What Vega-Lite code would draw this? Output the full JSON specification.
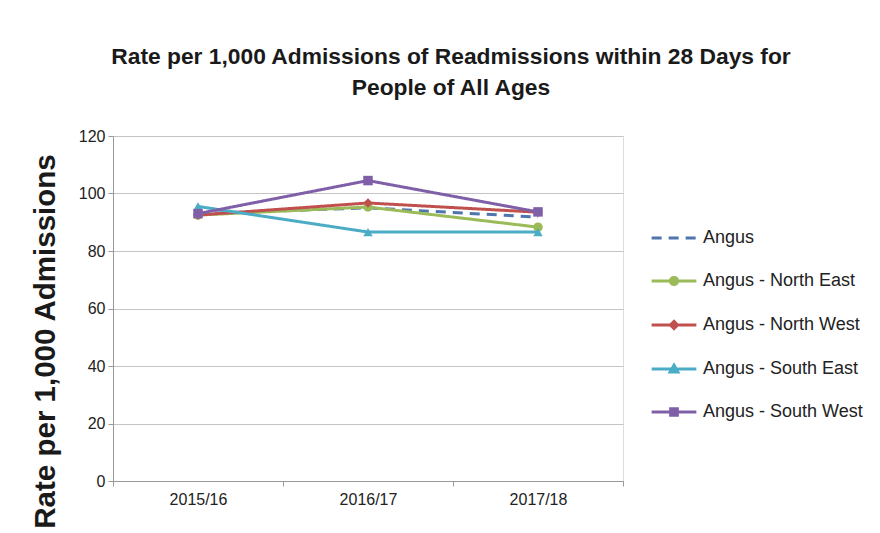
{
  "$schema": "https://vega.github.io/schema/vega-lite/v6.json",
  "width": 510,
  "height": 345,
  "autosize": "none",
  "padding": {"left": 113, "top": 136, "right": 257, "bottom": 52},
  "background": "white",
  "title": {
    "text": ["Rate per 1,000 Admissions of Readmissions within 28 Days for", "People of All Ages"],
    "font": "Liberation Sans",
    "fontSize": 22.8,
    "fontWeight": "bold",
    "color": "#1a1a1a",
    "anchor": "middle",
    "frame": "group",
    "dx": 83,
    "offset": 28,
    "lineHeight": 31
  },
  "data": {
    "values": [
      {"series": "Angus", "year": "2015/16", "rate": 93},
      {"series": "Angus", "year": "2016/17", "rate": 95},
      {"series": "Angus", "year": "2017/18", "rate": 91.8},
      {"series": "Angus - North East", "year": "2015/16", "rate": 92.5},
      {"series": "Angus - North East", "year": "2016/17", "rate": 95.3},
      {"series": "Angus - North East", "year": "2017/18", "rate": 88.3},
      {"series": "Angus - North West", "year": "2015/16", "rate": 92.5},
      {"series": "Angus - North West", "year": "2016/17", "rate": 96.7},
      {"series": "Angus - North West", "year": "2017/18", "rate": 93.5},
      {"series": "Angus - South East", "year": "2015/16", "rate": 95.5},
      {"series": "Angus - South East", "year": "2016/17", "rate": 86.6},
      {"series": "Angus - South East", "year": "2017/18", "rate": 86.6},
      {"series": "Angus - South West", "year": "2015/16", "rate": 93},
      {"series": "Angus - South West", "year": "2016/17", "rate": 104.5},
      {"series": "Angus - South West", "year": "2017/18", "rate": 93.6}
    ]
  },
  "encoding": {
    "x": {
      "field": "year",
      "type": "ordinal",
      "bandPosition": 0.5,
      "scale": {"type": "band", "paddingInner": 0, "paddingOuter": 0},
      "axis": {
        "title": null,
        "labelAngle": 0,
        "labelFont": "Liberation Sans",
        "labelFontSize": 16,
        "labelColor": "#222",
        "labelPadding": 5,
        "tickBand": "extent",
        "tickSize": 5,
        "tickColor": "#999",
        "domainColor": "#999",
        "grid": false
      }
    },
    "y": {
      "field": "rate",
      "type": "quantitative",
      "scale": {"domain": [0, 120], "nice": false},
      "axis": {
        "values": [0, 20, 40, 60, 80, 100, 120],
        "title": "Rate per 1,000 Admissions",
        "titleFont": "Liberation Sans",
        "titleFontSize": 29.5,
        "titleFontWeight": "bold",
        "titleColor": "#1a1a1a",
        "titleAnchor": "middle",
        "titleAngle": -90,
        "titleX": -68,
        "titleY": 205,
        "titleBaseline": "middle",
        "titleAlign": "center",
        "labelFont": "Liberation Sans",
        "labelFontSize": 16,
        "labelColor": "#222",
        "labelPadding": 3,
        "tickSize": 5,
        "tickColor": "#999",
        "domainColor": "#999",
        "gridColor": "#c4c4c4",
        "gridWidth": 1.2
      }
    },
    "color": {
      "field": "series",
      "type": "nominal",
      "scale": {
        "domain": ["Angus", "Angus - North East", "Angus - North West", "Angus - South East", "Angus - South West"],
        "range": ["#4F74AE", "#9BBB59", "#C0504D", "#4BACC6", "#7F5FA8"]
      },
      "legend": {
        "title": null,
        "orient": "none",
        "legendX": 537,
        "legendY": 78,
        "labelFont": "Liberation Sans",
        "labelFontSize": 18,
        "labelColor": "#222",
        "symbolSize": 2000,
        "symbolStrokeWidth": 3,
        "rowPadding": 10,
        "labelOffset": 5,
        "encode": {
          "symbols": {
            "update": {
              "shape": {"signal": "datum.value === 'Angus' ? 'M-1,0H1' : datum.value === 'Angus - North East' ? 'M-1,0H1M-0.16,0A0.16,0.16 0 1,0 0.16,0A0.16,0.16 0 1,0 -0.16,0Z' : datum.value === 'Angus - North West' ? 'M-1,0H1M0,-0.16L0.16,0L0,0.16L-0.16,0Z' : datum.value === 'Angus - South East' ? 'M-1,0H1M0,-0.17L0.17,0.13L-0.17,0.13Z' : 'M-1,0H1M-0.15,-0.15H0.15V0.15H-0.15Z'"},
              "fill": {"scale": "color", "field": "value"},
              "stroke": {"scale": "color", "field": "value"},
              "strokeWidth": {"value": 3},
              "strokeDash": {"signal": "datum.value === 'Angus' ? [13, 9] : [1, 0]"},
              "opacity": {"value": 1}
            }
          }
        }
      }
    }
  },
  "layer": [
    {
      "mark": {"type": "line", "strokeWidth": 3},
      "encoding": {
        "strokeDash": {
          "field": "series",
          "type": "nominal",
          "scale": {
            "domain": ["Angus", "Angus - North East", "Angus - North West", "Angus - South East", "Angus - South West"],
            "range": [[10, 7], [1, 0], [1, 0], [1, 0], [1, 0]]
          },
          "legend": null
        }
      }
    },
    {
      "transform": [{"filter": "datum.series !== 'Angus'"}],
      "mark": {"type": "point", "filled": true, "opacity": 1, "size": 90},
      "encoding": {
        "shape": {
          "field": "series",
          "type": "nominal",
          "scale": {
            "domain": ["Angus - North East", "Angus - North West", "Angus - South East", "Angus - South West"],
            "range": ["circle", "diamond", "triangle-up", "square"]
          },
          "legend": null
        }
      }
    }
  ]
}
